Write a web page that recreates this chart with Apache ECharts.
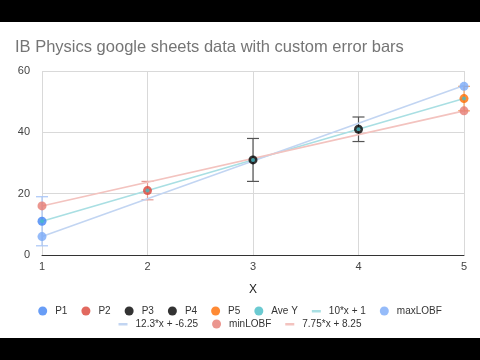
<!DOCTYPE html>
<html>
<head>
<meta charset="utf-8">
<script src="https://cdn.jsdelivr.net/npm/echarts@6/dist/echarts.min.js"></script>
<style>html,body{margin:0;padding:0;background:#fff;}#c{width:480px;height:360px;}</style>
</head>
<body>
<div id="c"></div>
<script>
// ---- data ----
var xValues = [1, 2, 3, 4, 5];
var pointNames = ['P1', 'P2', 'P3', 'P4', 'P5'];
var pointY = [11, 21, 31, 41, 51];
var aveY = [11, 21, 31, 41, 51];
var errorSizes = [8, 3, 7, 4, 4];
var maxLOBF = [[1, 6], [5, 55]];
var minLOBF = [[1, 16], [5, 47]];
var trendAve = [[1, 11], [5, 51]];
var trendMax = [[1, 6.05], [5, 55.25]];
var trendMin = [[1, 16], [5, 47]];
var trendNames = ['10*x + 1', '12.3*x + -6.25', '7.75*x + 8.25'];
var xTicks = [1, 2, 3, 4, 5];
var yTicks = [0, 20, 40, 60];

// ---- styles ----
var pointColors = ['#4285f4', '#db4437', '#000000', '#000000', '#ff6d01'];
var errColors = ['#a9c6f7', '#e59a93', '#555555', '#555555', '#f7a55f'];
var font = 'Liberation Sans, Arial, sans-serif';
var lineIcon = 'path://M0,0 L0.01,0 L0.01,0.01 Z M0,4 L10,4 L10,6.6 L0,6.6 Z M10,10 L9.99,10 L9.99,9.99 Z';

var chart = echarts.init(document.getElementById('c'), null, {renderer: 'canvas'});

var series = [];
// error bars
series.push({
  type: 'custom',
  name: 'err',
  z: 1,
  data: xValues.map(function (x, i) { return [x, aveY[i] - errorSizes[i], aveY[i] + errorSizes[i]]; }),
  encode: {x: 0, y: [1, 2]},
  renderItem: function (params, api) {
    var lo = api.coord([api.value(0), api.value(1)]);
    var hi = api.coord([api.value(0), api.value(2)]);
    var c = errColors[params.dataIndex];
    var hw = 6;
    return {
      type: 'group',
      children: [
        {type: 'line', shape: {x1: lo[0], y1: lo[1], x2: hi[0], y2: hi[1]}, style: {stroke: c, lineWidth: 1.2}},
        {type: 'line', shape: {x1: lo[0] - hw, y1: lo[1], x2: lo[0] + hw, y2: lo[1]}, style: {stroke: c, lineWidth: 1.2}},
        {type: 'line', shape: {x1: hi[0] - hw, y1: hi[1], x2: hi[0] + hw, y2: hi[1]}, style: {stroke: c, lineWidth: 1.2}}
      ]
    };
  },
  silent: true
});
// trend lines
var trendData = [trendAve, trendMax, trendMin];
var trendColors = ['#a9dfe3', '#c2d5f2', '#f3c3bf'];
trendData.forEach(function (d, i) {
  series.push({
    type: 'line', name: trendNames[i], data: d, symbol: 'none', z: 2,
    lineStyle: {color: trendColors[i], width: 1.6}, itemStyle: {color: trendColors[i]}
  });
});
// LOBF points
series.push({type: 'scatter', name: 'maxLOBF', data: maxLOBF, symbolSize: 9, z: 3, itemStyle: {color: '#7baaf7'}});
series.push({type: 'scatter', name: 'minLOBF', data: minLOBF, symbolSize: 9, z: 3, itemStyle: {color: '#e67c73'}});
// P points
pointNames.forEach(function (n, i) {
  series.push({type: 'scatter', name: n, data: [[xValues[i], pointY[i]]], symbolSize: 9, z: 4, itemStyle: {color: pointColors[i]}});
});
// Ave Y
series.push({type: 'scatter', name: 'Ave Y', data: xValues.map(function (x, i) { return [x, aveY[i]]; }), symbolSize: 4, z: 5, itemStyle: {color: '#46bdc6'}});

function legendItems(names) {
  return names.map(function (n) {
    if (trendNames.indexOf(n) >= 0) return {name: n, icon: lineIcon};
    return {name: n, icon: 'circle'};
  });
}
var legendCommon = {
  left: 'center', itemWidth: 9, itemHeight: 9, itemGap: 14,
  textStyle: {fontSize: 10, color: '#333', fontFamily: font, padding: [0, 0, 0, 3]}
};

chart.setOption({
  animation: false,
  backgroundColor: '#ffffff',
  textStyle: {fontFamily: font},
  title: {
    text: 'IB Physics google sheets data with custom error bars',
    left: 10, top: 34,
    textStyle: {fontSize: 16.5, fontWeight: 'normal', color: '#757575', fontFamily: font}
  },
  legend: [
    Object.assign({top: 301, data: legendItems(['P1', 'P2', 'P3', 'P4', 'P5', 'Ave Y', trendNames[0], 'maxLOBF'])}, legendCommon),
    Object.assign({top: 314, data: legendItems([trendNames[1], 'minLOBF', trendNames[2]])}, legendCommon)
  ],
  grid: {left: 42, right: 16, top: 71, bottom: 105, containLabel: false},
  xAxis: {
    type: 'value', min: xTicks[0], max: xTicks[xTicks.length - 1], interval: 1,
    name: 'X', nameLocation: 'middle', nameGap: 29,
    nameTextStyle: {fontSize: 12, color: '#222', fontFamily: font},
    axisLine: {lineStyle: {color: '#333', width: 1}},
    axisTick: {show: false},
    axisLabel: {color: '#444', fontSize: 11, margin: 6, fontFamily: font},
    splitLine: {show: true, lineStyle: {color: '#d9d9d9'}}
  },
  yAxis: {
    type: 'value', min: yTicks[0], max: yTicks[yTicks.length - 1], interval: 20,
    axisLine: {show: false},
    axisTick: {show: false},
    axisLabel: {color: '#444', fontSize: 11, margin: 12, fontFamily: font},
    splitLine: {show: true, lineStyle: {color: '#d9d9d9'}}
  },
  graphic: [
    {type: 'rect', shape: {x: 0, y: 0, width: 480, height: 22}, style: {fill: '#000'}, z: 100},
    {type: 'rect', shape: {x: 0, y: 338, width: 480, height: 22}, style: {fill: '#000'}, z: 100}
  ],
  series: series
});
</script>
</body>
</html>
